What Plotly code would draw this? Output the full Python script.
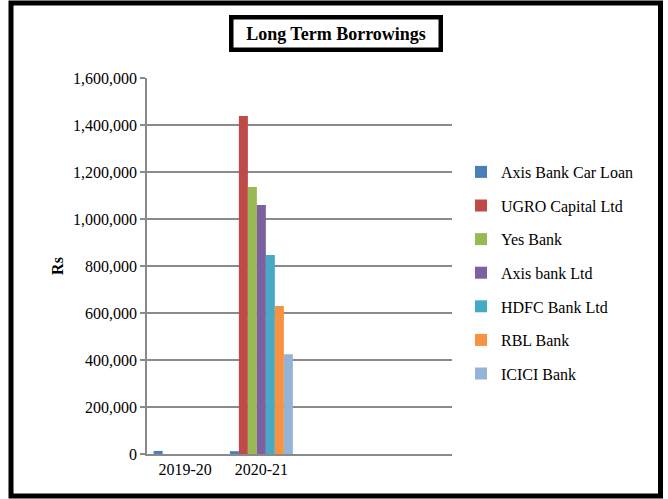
import plotly.graph_objects as go

categories = ["2019-20", "2020-21"]
series_names = ["Axis Bank Car Loan", "UGRO Capital Ltd", "Yes Bank", "Axis bank Ltd",
                "HDFC Bank Ltd", "RBL Bank", "ICICI Bank"]
axis_car_loan = [13000, 12000]
ugro_capital = [0, 1438000]
yes_bank = [0, 1136000]
axis_bank_ltd = [0, 1060000]
hdfc_bank = [0, 847000]
rbl_bank = [0, 630000]
icici_bank = [0, 425000]
colors = ["#4A7EBB", "#BE4B48", "#98B954", "#7D60A0", "#46AAC5", "#F69240", "#95B3D7"]
y_ticks = [0, 200000, 400000, 600000, 800000, 1000000, 1200000, 1400000, 1600000]

series_values = [axis_car_loan, ugro_capital, yes_bank, axis_bank_ltd, hdfc_bank, rbl_bank, icici_bank]

FONT = "Liberation Serif"
GRID = "#8A8A8A"

fig = go.Figure()
for name, vals, col in zip(series_names, series_values, colors):
    fig.add_trace(go.Bar(x=categories, y=vals, name=name, marker_color=col,
                         marker_line_width=0, legendgroup=name))

L, R, T, B = 147, 216, 78, 45
W, H = 668, 499
pw, ph = W - L - R, H - T - B

def px_x(x):
    return (x - L) / pw

def px_y(y):
    return (H - B - y) / ph

fig.update_layout(
    width=W, height=H,
    margin=dict(l=L, r=R, t=T, b=B, pad=0),
    paper_bgcolor="white", plot_bgcolor="white",
    font=dict(family=FONT, size=16, color="black"),
    barmode="group", bargap=0.174, bargroupgap=0,
    showlegend=True,
    legend=dict(xref="paper", yref="paper", x=px_x(461), y=px_y(155),
                xanchor="left", yanchor="top", tracegroupgap=9.8,
                font=dict(family=FONT, size=16, color="black"),
                bgcolor="rgba(0,0,0,0)"),
    xaxis=dict(type="category", range=[-0.5, 3.5], showgrid=False, showline=True,
               linecolor=GRID, linewidth=1.5, ticks="", zeroline=False,
               tickfont=dict(family=FONT, size=16, color="black")),
    yaxis=dict(range=[0, 1600000], tickvals=y_ticks, tickformat=",", showline=True,
               linecolor=GRID, linewidth=1.5, ticks="outside", ticklen=5, tickcolor=GRID,
               tickwidth=1.5, showgrid=True, gridcolor=GRID, gridwidth=1.5, zeroline=False,
               tickfont=dict(family=FONT, size=16, color="black"),
               title=dict(text="<b>Rs</b>", standoff=5,
                          font=dict(family=FONT, size=16, color="black"))),
    shapes=[dict(type="rect", xref="paper", yref="paper",
                 x0=px_x(11), x1=px_x(660.5), y0=px_y(496), y1=px_y(3),
                 line=dict(color="black", width=5), fillcolor="rgba(0,0,0,0)", layer="above")],
    annotations=[dict(text="<b>Long Term Borrowings</b>", xref="paper", yref="paper",
                      x=px_x(336), y=px_y(33.5), xanchor="center", yanchor="middle",
                      showarrow=False, font=dict(family=FONT, size=18, color="black"),
                      bordercolor="black", borderwidth=4.5, borderpad=2,
                      width=201, height=24, bgcolor="white")],
)

fig.write_html("out.html")
